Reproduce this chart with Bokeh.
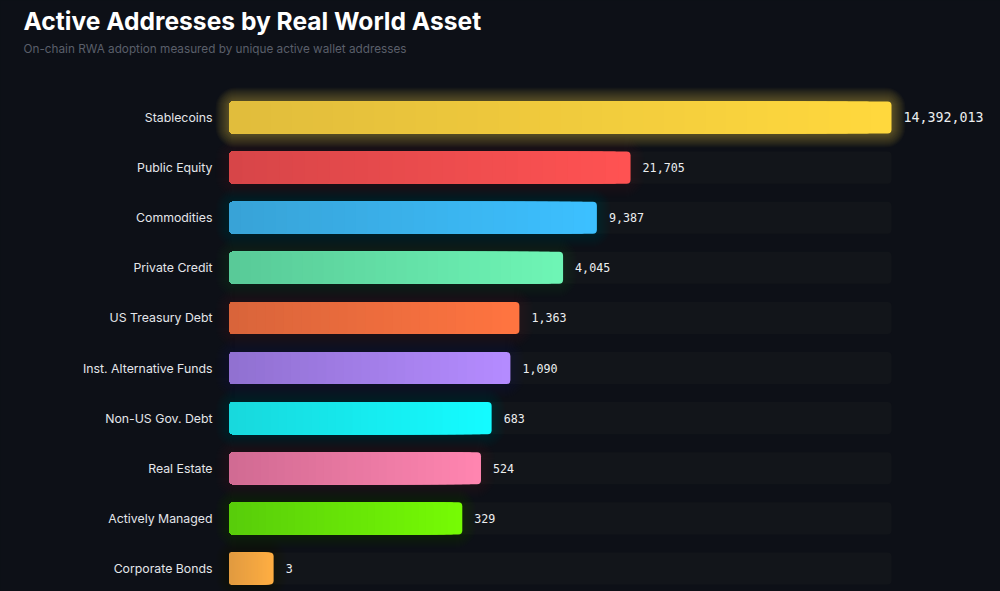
import math

from bokeh.core.properties import value
from bokeh.embed import file_html
from bokeh.models import ColumnDataSource, GlobalInlineStyleSheet, Label, LinearAxis, Range1d
from bokeh.plotting import figure
from bokeh.resources import INLINE

categories = ["Stablecoins", "Public Equity", "Commodities", "Private Credit", "US Treasury Debt",
              "Inst. Alternative Funds", "Non-US Gov. Debt", "Real Estate", "Actively Managed", "Corporate Bonds"]
addresses = [14392013, 21705, 9387, 4045, 1363, 1090, 683, 524, 329, 3]
left_colors = ["#e0bc3c", "#d64548", "#38a2d6", "#58c997", "#d8643a",
               "#9070d0", "#18d8dc", "#d06a92", "#57cc0a", "#e09a40"]
right_colors = ["#ffd83d", "#ff5252", "#3cc0ff", "#6ef5b5", "#ff7440",
                "#b48bff", "#14fbff", "#ff85b0", "#76fb04", "#ffae42"]
glow_strength = [0.026, 0.009, 0.009, 0.009, 0.009, 0.009, 0.009, 0.009, 0.009, 0.005]

BG = "#0d1017"
TRACK = "#12151a"
BAR_HEIGHT = 0.64
GRADIENT_STEPS = 32


def mix(c1, c2, t):
    a = [int(c1[i:i + 2], 16) for i in (1, 3, 5)]
    b = [int(c2[i:i + 2], 16) for i in (1, 3, 5)]
    return "#%02x%02x%02x" % tuple(round(x + (y - x) * t) for x, y in zip(a, b))


rows = list(range(len(categories)))
top = max(addresses)
px_per_decade = 662 / math.log10(top)

p = figure(
    width=1000, height=591,
    x_axis_type="log",
    x_range=Range1d(10 ** (-229 / px_per_decade), 10 ** (771 / px_per_decade)),
    y_range=Range1d(9.46, -2.335),
    y_axis_location=None,
    output_backend="svg",
    toolbar_location=None,
    background_fill_color=BG,
    border_fill_color=BG,
    min_border=0,
    outline_line_color=None,
)
p.stylesheets = [GlobalInlineStyleSheet(css=f"html, body {{ background: {BG}; overflow: hidden; }}")]
p.grid.visible = False
p.xaxis.visible = False

# tracks
p.hbar(y=rows, left=1, right=[top] * len(rows), height=BAR_HEIGHT,
       fill_color=TRACK, line_color=None, border_radius=4)

# glow around the bars
for width in range(2, 30, 2):
    p.hbar(y=rows, left=1, right=addresses, height=BAR_HEIGHT, fill_color=None,
           line_color=right_colors, line_alpha=glow_strength, line_width=width, border_radius=6)

# bars, gradient is painted as nested bars from the longest to the shortest
for k in range(GRADIENT_STEPS, 0, -1):
    t = k / GRADIENT_STEPS
    p.hbar(y=rows, left=1, right=[v ** t for v in addresses], height=BAR_HEIGHT,
           fill_color=[mix(a, b, t) for a, b in zip(left_colors, right_colors)], line_color=None,
           border_radius=4)

# row labels, the axis sits on the bars' base inside the frame so the glow is not clipped
y_axis = LinearAxis(fixed_location=1, ticker=rows, major_label_overrides=dict(zip(rows, categories)))
y_axis.axis_line_color = None
y_axis.major_tick_line_color = None
y_axis.minor_tick_line_color = None
y_axis.major_label_standoff = 11
y_axis.major_label_text_color = "#e4e6ea"
y_axis.major_label_text_font = "Inter"
y_axis.major_label_text_font_size = "12.3px"
p.add_layout(y_axis, "left")

# value labels
labels = ColumnDataSource(data=dict(
    x=addresses, y=rows, text=[f"{v:,}" for v in addresses],
    size=["13.3px" if v == top else "11.7px" for v in addresses],
))
p.text(x="x", y="y", text="text", source=labels, x_offset=12, text_color="#eceef0",
       text_font=value("DejaVu Sans Mono"), text_font_size="size", text_baseline="middle", text_align="left")

p.add_layout(Label(x=23, y=571, x_units="screen", y_units="screen", text="Active Addresses by Real World Asset",
                   text_color="#ffffff", text_font="Inter", text_font_style="bold", text_font_size="24.6px",
                   text_baseline="middle"))
p.add_layout(Label(x=23, y=543, x_units="screen", y_units="screen",
                   text="On-chain RWA adoption measured by unique active wallet addresses",
                   text_color="#5a5f6a", text_font="Inter", text_font_size="11.75px", text_baseline="middle"))

open("out.html", "w").write(file_html(p, INLINE))
